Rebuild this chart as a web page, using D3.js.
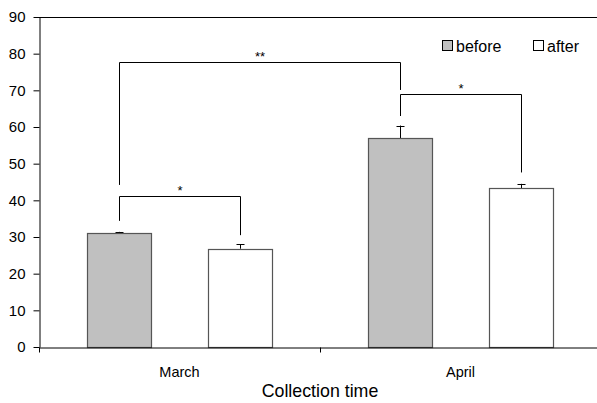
<!DOCTYPE html>
<html>
<head>
<meta charset="utf-8">
<script src="https://cdn.jsdelivr.net/npm/d3@7"></script>
<style>
  body { margin: 0; background: #fff; }
  svg { display: block; font-family: "Liberation Sans", Arial, sans-serif; }
</style>
</head>
<body>
<div id="chart"></div>
<script>
// chart data
const categories = ["March", "April"];
const series = ["before", "after"];
const beforeValues = [31.2, 56.9];
const afterValues = [26.8, 43.3];
const beforeErrors = [0.2, 3.5];
const afterErrors = [1.2, 1.2];
const yTicks = [0, 10, 20, 30, 40, 50, 60, 70, 80, 90];

// significance brackets: which bars they join, bracket height and leg ends (data units)
const bracketLabels = ["*", "*", "**"];
const bracketFrom = [["March", "before"], ["April", "before"], ["March", "before"]];
const bracketTo = [["March", "after"], ["April", "after"], ["April", "before"]];
const bracketLevels = [41.2, 68.9, 77.6];
const bracketEnds = [[34.4, 30.5], [63.0, 47.6], [44.2, 70.1]];

const seriesColors = { before: "#c0c0c0", after: "#ffffff" };

function drawChart() {
  const width = 597;
  const height = 403;
  const margin = { left: 39, right: -4, top: 17, bottom: 56 };

  const svg = d3
    .select("#chart")
    .append("svg")
    .attr("width", width)
    .attr("height", height);

  const x0 = d3
    .scaleBand()
    .domain(categories)
    .range([margin.left, width - margin.right])
    .padding(0);

  const x1 = d3
    .scaleBand()
    .domain(series)
    .range([0, x0.bandwidth()])
    .paddingInner(0.47)
    .paddingOuter(0.4);

  const y = d3
    .scaleLinear()
    .domain([0, 90])
    .range([height - margin.bottom, margin.top]);

  const rows = [];
  categories.forEach((c, i) => {
    rows.push({ cat: c, ser: "before", value: beforeValues[i], err: beforeErrors[i] });
    rows.push({ cat: c, ser: "after", value: afterValues[i], err: afterErrors[i] });
  });

  const barCenter = (c, s) => x0(c) + x1(s) + x1.bandwidth() / 2;

  // top frame line
  svg.append("line")
    .attr("x1", margin.left)
    .attr("x2", width)
    .attr("y1", y(90) + 0.5)
    .attr("y2", y(90) + 0.5)
    .attr("stroke", "#000")
    .attr("stroke-width", 1);

  // y axis
  const yAxis = svg.append("g")
    .attr("transform", `translate(${margin.left + 0.5},0)`)
    .call(d3.axisLeft(y).tickValues(yTicks).tickSize(6).tickSizeOuter(0).tickPadding(8));
  yAxis.selectAll("path, line").attr("stroke", "#000");
  yAxis.selectAll("text").attr("font-size", "15px").attr("fill", "#000")
    .attr("font-family", "Liberation Sans, Arial, sans-serif");

  // error bars
  const errs = svg.append("g").attr("stroke", "#000").attr("stroke-width", 1);
  rows.forEach((d) => {
    const cx = Math.round(barCenter(d.cat, d.ser)) + 0.5;
    errs.append("line")
      .attr("x1", cx).attr("x2", cx)
      .attr("y1", y(d.value)).attr("y2", y(d.value + d.err));
    errs.append("line")
      .attr("x1", cx - 4).attr("x2", cx + 4)
      .attr("y1", Math.round(y(d.value + d.err)) + 0.5)
      .attr("y2", Math.round(y(d.value + d.err)) + 0.5);
  });

  // bars
  svg.append("g")
    .selectAll("rect")
    .data(rows)
    .join("rect")
    .attr("x", (d) => Math.round(x0(d.cat) + x1(d.ser)) + 0.5)
    .attr("y", (d) => Math.round(y(d.value)) + 0.5)
    .attr("width", Math.round(x1.bandwidth()))
    .attr("height", (d) => Math.round(y(0)) - Math.round(y(d.value)))
    .attr("fill", (d) => seriesColors[d.ser])
    .attr("stroke", "#555")
    .attr("stroke-width", 1.2);

  // x axis
  const xAxis = svg.append("g")
    .attr("transform", `translate(0,${y(0) + 0.5})`)
    .call(d3.axisBottom(x0).tickSize(0).tickPadding(19).tickSizeOuter(0));
  xAxis.select(".domain").attr("stroke", "#000");
  xAxis.selectAll("text").attr("font-size", "14.5px").attr("fill", "#000")
    .attr("font-family", "Liberation Sans, Arial, sans-serif");
  // boundary ticks between categories
  xAxis.selectAll(".bound")
    .data(categories)
    .join("line")
    .attr("class", "bound")
    .attr("x1", (d) => Math.round(x0(d)) + 0.5)
    .attr("x2", (d) => Math.round(x0(d)) + 0.5)
    .attr("y1", 0)
    .attr("y2", 5)
    .attr("stroke", "#000");

  svg.append("text")
    .attr("x", (margin.left + width - margin.right) / 2)
    .attr("y", 397)
    .attr("text-anchor", "middle")
    .attr("font-size", "17.8px")
    .attr("fill", "#000")
    .text("Collection time");

  // significance brackets
  const br = svg.append("g");
  bracketLabels.forEach((label, i) => {
    const xa = Math.round(barCenter(...bracketFrom[i])) + 0.5;
    const xb = Math.round(barCenter(...bracketTo[i])) + 0.5;
    const yl = Math.round(y(bracketLevels[i])) + 0.5;
    br.append("path")
      .attr("d", `M${xa},${y(bracketEnds[i][0])}V${yl}H${xb}V${y(bracketEnds[i][1])}`)
      .attr("fill", "none")
      .attr("stroke", "#000")
      .attr("stroke-width", 1);
    br.append("text")
      .attr("x", (xa + xb) / 2)
      .attr("y", yl - 2)
      .attr("text-anchor", "middle")
      .attr("font-size", "13px")
      .attr("fill", "#000")
      .text(label);
  });

  // legend
  const legendX = [442, 533];
  const legend = svg.append("g");
  series.forEach((s, i) => {
    legend.append("rect")
      .attr("x", legendX[i] + 0.5)
      .attr("y", 40.5)
      .attr("width", 10)
      .attr("height", 10)
      .attr("fill", seriesColors[s])
      .attr("stroke", "#000")
      .attr("stroke-width", 1);
    legend.append("text")
      .attr("x", legendX[i] + 14)
      .attr("y", 52)
      .attr("font-size", "16px")
      .attr("fill", "#000")
      .text(s);
  });
}

drawChart();
</script>
</body>
</html>
